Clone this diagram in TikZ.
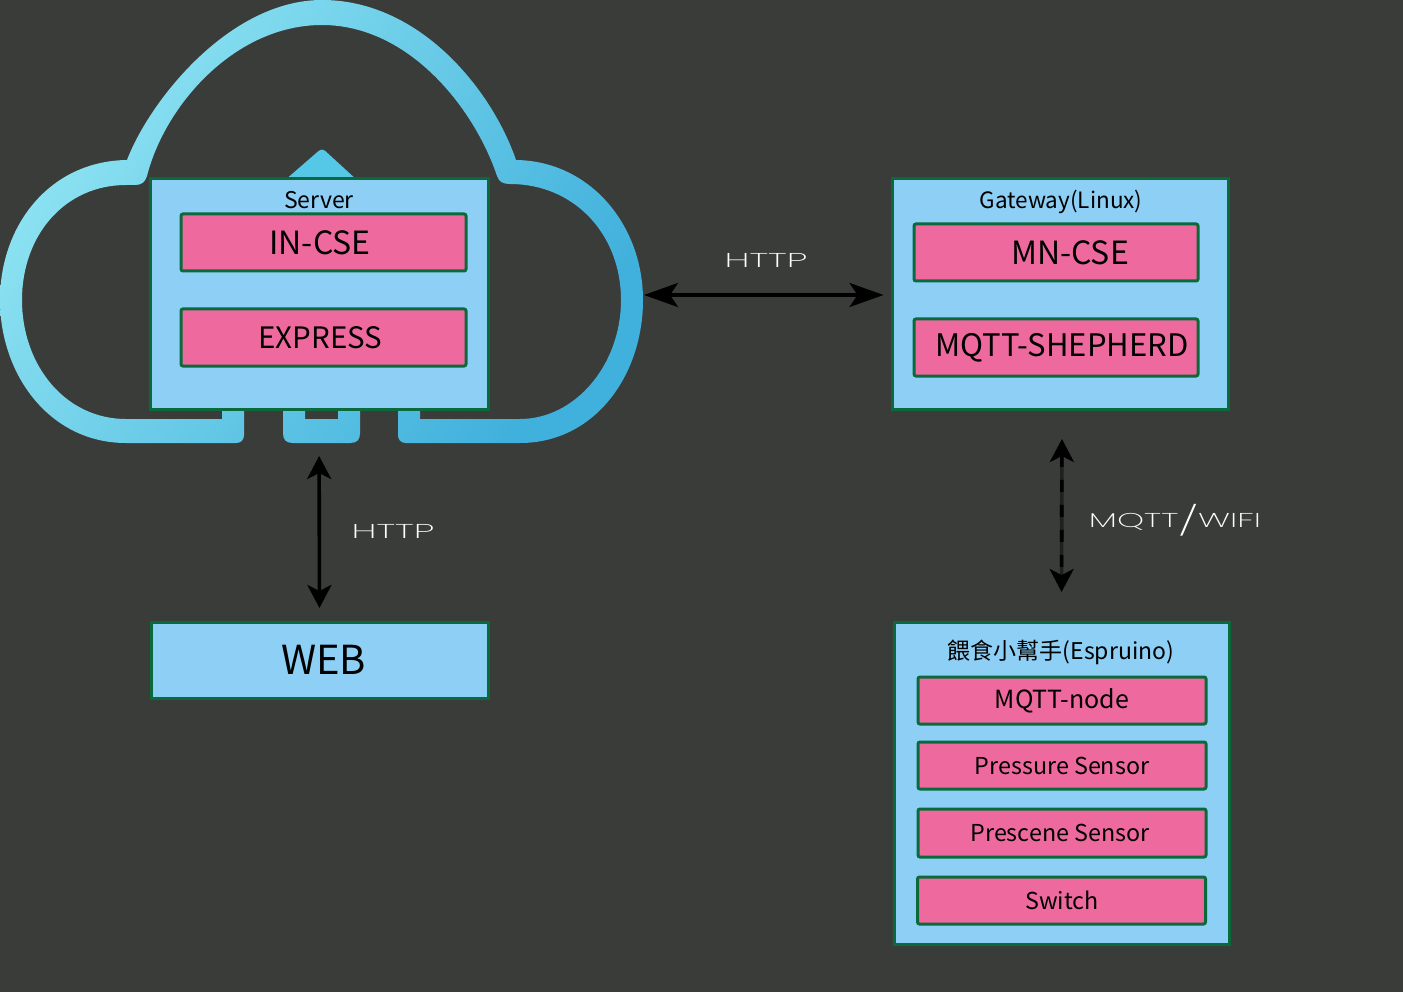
\documentclass[tikz,border=0pt]{standalone}
\usepackage{fontspec}
\setmainfont{Noto Sans CJK TC}
\newfontfamily\thinfont{Poppins ExtraLight}
\usetikzlibrary{arrows.meta}
\definecolor{bgc}{HTML}{3A3C3A}
\definecolor{boxblue}{HTML}{8DCFF5}
\definecolor{boxpink}{HTML}{EE6A9E}
\definecolor{boxgreen}{HTML}{0A6A3C}
\definecolor{cloudA}{HTML}{8FE4F2}
\definecolor{cloudB}{HTML}{55C8E8}
\definecolor{cloudC}{HTML}{40B0DC}
\newcommand{\fs}[1]{\fontsize{#1}{#1}\selectfont}
\tikzset{
  x=1pt,y=-1pt,
  bluebox/.style={draw=boxgreen,line width=3pt,fill=boxblue,inner sep=0pt,text=black},
  pinkbox/.style={draw=boxgreen,line width=3pt,fill=boxpink,rounded corners=2pt,inner sep=0pt,text=black},
  thinlabel/.style={text=white,inner sep=0pt,font=\thinfont\fs{20}},
  link/.style={line width=3.6pt,black,{Stealth[length=23pt,width=24pt,inset=6pt]}-{Stealth[length=23pt,width=24pt,inset=6pt]}},
  cloudshade/.style={left color=cloudA,middle color=cloudB,right color=cloudC,shading angle=55,draw=none}
}
\begin{document}
\begin{tikzpicture}
\useasboundingbox[fill=bgc] (0,0) rectangle (1403,992);
% cloud outline with its middle piece
\shade[cloudshade]
  (244,405) -- (244,435) .. controls (244,440) and (241,443) .. (236,443) -- (126,443)
  .. controls (50,443) and (0,375) .. (0,300)
  .. controls (0,225) and (50,161) .. (127,160)
  .. controls (150,100) and (230,0) .. (322,0)
  .. controls (420,0) and (492,90) .. (516,160)
  .. controls (590,161) and (643,225) .. (643,300)
  .. controls (643,375) and (595,443) .. (520,443)
  -- (406,443) .. controls (401,443) and (398,440) .. (398,435) -- (398,405)
  -- (420,405) -- (420,419) -- (520,419)
  .. controls (575,419) and (621,365) .. (621,300)
  .. controls (621,235) and (575,184) .. (510,184)
  .. controls (503,184) and (499,182) .. (497,176)
  .. controls (475,110) and (410,25) .. (322,25)
  .. controls (235,25) and (165,105) .. (147,176)
  .. controls (145,182) and (142,185) .. (135,185)
  -- (126,185)
  .. controls (65,185) and (22,235) .. (22,300)
  .. controls (22,365) and (65,419) .. (126,419)
  -- (222,419) -- (222,405) -- cycle
  (283,405) -- (283,433) .. controls (283,440) and (286,443) .. (293,443)
  -- (350,443) .. controls (357,443) and (360,440) .. (360,433)
  -- (360,405) -- (338,405) -- (338,419) -- (305,419) -- (305,405) -- cycle;
\fill[cloudB,rounded corners=4pt] (284,181) -- (322,148) -- (358,181) -- cycle;
% server
\node[bluebox,minimum width=338pt,minimum height=230pt] (server) at (319,294) {};
\node[inner sep=0pt,font=\fs{23}] (servertitle) at (319,200) {Server};
\node[pinkbox,minimum width=285pt,minimum height=57pt,font=\fs{32}] (incse) at (323.5,242.5) {\hspace*{-7pt}IN-CSE};
\node[pinkbox,minimum width=285pt,minimum height=57pt,font=\fs{29.5}] (express) at (323.5,337.5) {\hspace*{-6pt}EXPRESS};
% gateway
\node[bluebox,minimum width=336pt,minimum height=230pt] (gateway) at (1060,294) {};
\node[inner sep=0pt,font=\fs{22.5}] (gatewaytitle) at (1061,201.5) {Gateway(Linux)};
\node[pinkbox,minimum width=284pt,minimum height=57pt,font=\fs{32}] (mncse) at (1056,252.5) {\hspace*{28pt}MN-CSE};
\node[pinkbox,minimum width=284pt,minimum height=57pt,font=\fs{31}] (shepherd) at (1056,347.5) {\hspace*{12pt}MQTT-SHEPHERD};
% web
\node[bluebox,minimum width=337pt,minimum height=76pt,font=\fs{40}] (web) at (319.5,660) {\hspace*{8pt}WEB};
% espruino
\node[bluebox,minimum width=335pt,minimum height=322pt] (esp) at (1061.5,783) {};
\node[inner sep=0pt,font=\fs{23}] (esptitle) at (1061,652.5) {餵食小幫手(Espruino)};
\node[pinkbox,minimum width=288pt,minimum height=47pt,font=\fs{25}] (mqttnode) at (1062,700.5) {\raisebox{-1.5pt}{MQTT-node}};
\node[pinkbox,minimum width=288pt,minimum height=47pt,font=\fs{23.3}] (pressure) at (1062,765.5) {Pressure Sensor};
\node[pinkbox,minimum width=288pt,minimum height=48pt,font=\fs{23.3}] (prescene) at (1062,833) {\hspace*{-4pt}Prescene Sensor};
\node[pinkbox,minimum width=288pt,minimum height=47pt,font=\fs{23.3}] (switch) at (1061.5,900.5) {\hspace*{1pt}Switch};
% connectors
\coordinate (cloudedge) at (644,295);
\draw[link,{Stealth[length=34pt,width=24pt,inset=8pt]}-{Stealth[length=34pt,width=24pt,inset=8pt]},shorten >=7pt] (cloudedge) -- ([yshift=-1pt]gateway.west);
\draw[link,shorten <=45.5pt,shorten >=12.5pt] (server.south) -- (web.north);
\draw[line width=3.6pt,black,opacity=.45,shorten <=45pt,shorten >=45pt] ([xshift=2pt]gateway.south) -- (esp.north);
\draw[link,shorten <=28.5pt,shorten >=28.5pt,dash pattern=on 12pt off 13pt] ([xshift=2pt]gateway.south) -- (esp.north);
% labels
\node[thinlabel,xscale=1.88] (httpa) at (766,260) {HTTP};
\node[thinlabel,xscale=1.88] (httpb) at (393,531) {HTTP};
\node[thinlabel,xscale=1.72] (mqttwifi) at (1175,520) {MQTT\raisebox{-3.5pt}{\fs{29}/}WIFI};
\end{tikzpicture}
\end{document}
